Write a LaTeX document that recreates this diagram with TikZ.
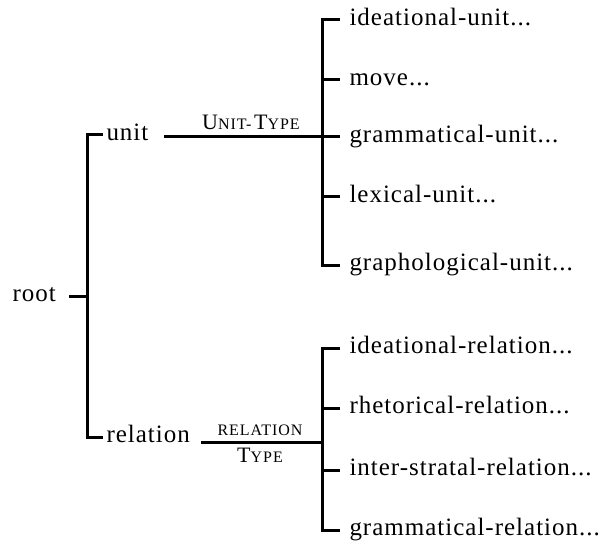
\documentclass[tikz,border=0pt]{standalone}
\usepackage{fontspec}
\setmainfont{Liberation Serif}
\newfontfamily\spacedfont{Liberation Serif}[LetterSpace=4]
\newfontfamily\capfont{Liberation Serif}[LetterSpace=6]
\newcommand\capbig{\fontsize{22bp}{24bp}\selectfont}
\newcommand\capsmall{\fontsize{16bp}{18bp}\selectfont}
\begin{document}
\begin{tikzpicture}[x=1bp,y=-1bp,
  lab/.style={anchor=west,inner sep=0pt,text height=18bp,text depth=7bp,
    font=\spacedfont\fontsize{25bp}{28bp}\selectfont},
  typ/.style={anchor=base,inner sep=0pt,font=\capfont},
  every path/.style={line width=3bp,line cap=butt,line join=miter}]
\useasboundingbox (0,0) rectangle (605,550);
% left level
\node[lab] (root) at (11,296) {root};
\node[lab] (unit) at (105,135) {unit};
\node[lab] (relation) at (105,437) {relation};
\coordinate (lb) at (87,296);
\coordinate (ub) at (322,137);
\coordinate (rb) at (322,442);
\draw ([xshift=12bp]root.east) -- (lb);
\draw ([xshift=-2bp]unit.west) -- (unit.west -| lb) -- (relation.west -| lb) -- ([xshift=-2bp]relation.west);
% unit children
\node[lab] (iu) at (348,20) {ideational-unit...};
\node[lab] (mv) at (348,80) {move...};
\node[lab] (gu) at (348,137) {grammatical-unit...};
\node[lab] (lx) at (348,197) {lexical-unit...};
\node[lab] (gp) at (348,265) {graphological-unit...};
\draw ([xshift=14bp]unit.east |- ub) -- (ub);
\draw ([xshift=-8bp]iu.west) -- (iu.west -| ub) -- (gp.west -| ub) -- ([xshift=-8bp]gp.west);
\draw (mv.west -| ub) -- ([xshift=-8bp]mv.west);
\draw (gu.west -| ub) -- ([xshift=-8bp]gu.west);
\draw (lx.west -| ub) -- ([xshift=-8bp]lx.west);
\node[typ] (ut) at (251,130) {\capbig U\capsmall NIT-\,\capbig T\capsmall YPE};
% relation children
\node[lab] (ir) at (348,348) {ideational-relation...};
\node[lab] (rh) at (348,408) {rhetorical-relation...};
\node[lab] (is) at (348,470) {inter-stratal-relation...};
\node[lab] (gr) at (348,530) {grammatical-relation...};
\draw ([xshift=10bp]relation.east |- rb) -- (rb);
\draw ([xshift=-8bp]ir.west) -- (ir.west -| rb) -- (gr.west -| rb) -- ([xshift=-8bp]gr.west);
\draw (rh.west -| rb) -- ([xshift=-8bp]rh.west);
\draw (is.west -| rb) -- ([xshift=-8bp]is.west);
\node[typ] (rl) at (260,435) {\capsmall RELATION};
\node[typ] (rty) at (260,462) {\capbig T\capsmall YPE};
\end{tikzpicture}
\end{document}
